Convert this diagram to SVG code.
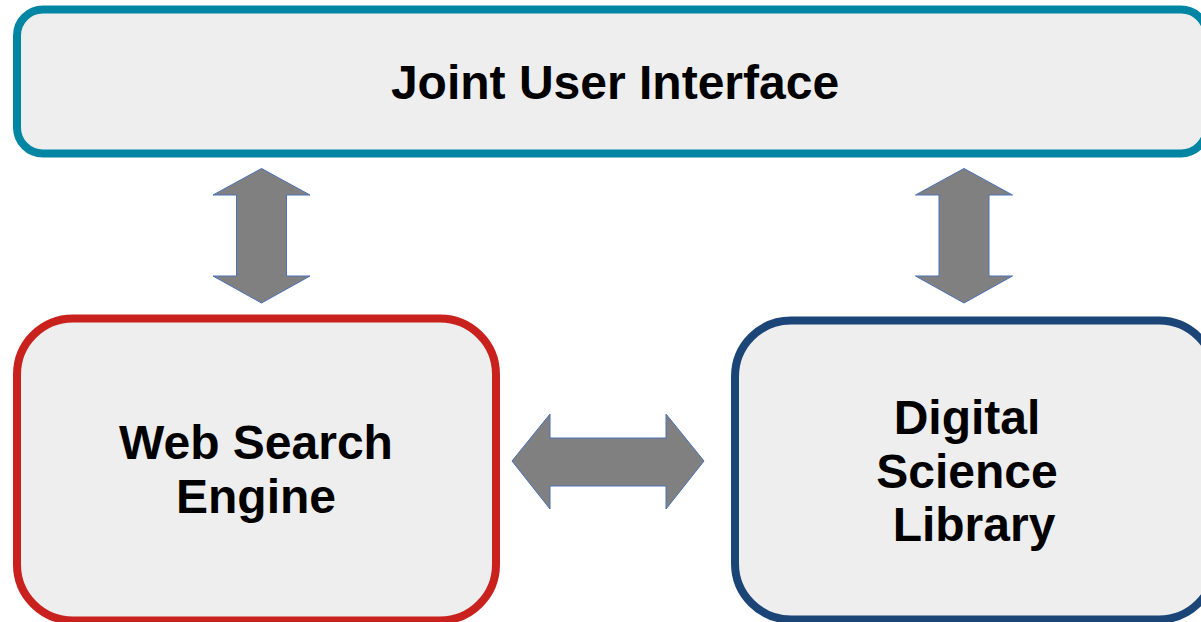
<svg xmlns="http://www.w3.org/2000/svg" width="1201" height="622" viewBox="0 0 1201 622">
  <style>
    .box { fill: #eeeeee; stroke-width: 8; }
    .label { font-family: "Liberation Sans", Arial, sans-serif; font-weight: bold; font-size: 48px; fill: #000000; text-anchor: middle; }
    .arrow { fill: #808080; stroke: #4a72b8; stroke-width: 1; stroke-linejoin: miter; }
  </style>
  <rect width="1201" height="622" fill="#ffffff"/>

  <g id="joint-ui">
    <rect class="box" x="17" y="9.5" width="1190" height="144" rx="26" stroke="#0086a3"/>
    <text class="label" x="615" y="99">Joint User Interface</text>
  </g>

  <g id="web-search-engine">
    <rect class="box" x="17" y="318.5" width="479" height="302" rx="56" stroke="#c9211e"/>
    <text class="label" x="256" y="459">Web Search</text>
    <text class="label" x="256" y="513">Engine</text>
  </g>

  <g id="digital-science-library">
    <rect class="box" x="735" y="320.5" width="480" height="299" rx="56" stroke="#1c4577"/>
    <text class="label" x="967" y="434">Digital</text>
    <text class="label" x="967" y="488">Science</text>
    <text class="label" x="974" y="541">Library</text>
  </g>

  <g id="connectors">
    <!-- Joint UI <-> Web Search Engine -->
    <polygon class="arrow" points="261.5,168.5 310,195 286.5,195 286.5,276 310,276 261.5,303 213,276 236.5,276 236.5,195 213,195"/>
    <!-- Joint UI <-> Digital Science Library -->
    <polygon class="arrow" points="964,168.5 1012.5,195 989,195 989,276 1012.5,276 964,303 915.5,276 939,276 939,195 915.5,195"/>
    <!-- Web Search Engine <-> Digital Science Library -->
    <polygon class="arrow" points="512,461 550,414 550,438 666,438 666,414 704,461 666,509 666,486 550,486 550,509"/>
  </g>
</svg>
